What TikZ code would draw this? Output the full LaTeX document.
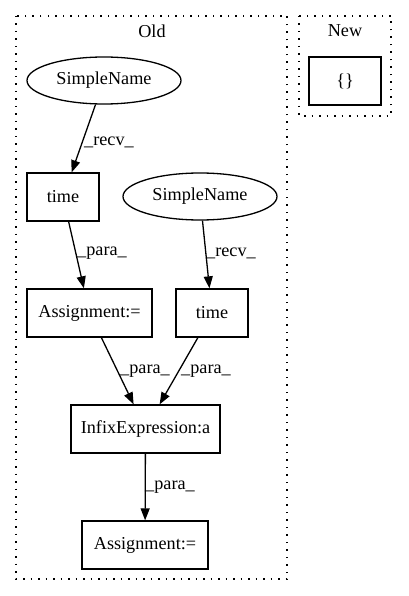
\documentclass[tikz,border=0pt]{standalone}
\usepackage{fontspec}
\setmainfont{Liberation Serif}
\usetikzlibrary{shapes.geometric,arrows.meta}
\begin{document}
\begin{tikzpicture}[x=1pt,y=-1pt,
  every node/.style={font=\fontsize{18.2}{22}\selectfont, inner sep=0pt},
  box/.style={draw, line width=1.3pt, rectangle, minimum height=48pt},
  oval/.style={draw, line width=1.3pt, ellipse, minimum width=154pt, minimum height=47pt},
  edge/.style={draw, line width=1.3pt, -{Triangle[length=12pt,width=9pt]}},
  cluster/.style={draw, line width=1.5pt, dash pattern=on 1.5pt off 6pt},
  lbl/.style={}
]
\useasboundingbox (0,0) rectangle (408,596);
\fill[white] (0,0) rectangle (408,596);
% clusters
\draw[cluster] (16,16) rectangle (287,579);
\draw[cluster] (299,16) rectangle (391,116);
\node (oldt) at (152,31) {Old};
\node (newt) at (345,31) {New};
% nodes
\node[box, minimum width=72pt] (empty) at (345,81) {\{\}};
\node[oval] (sn1) at (104,80.5) {SimpleName};
\node[box, minimum width=72pt] (time1) at (63,197) {time};
\node[oval] (sn2) at (200,196.5) {SimpleName};
\node[box, minimum width=125pt] (as1) at (89.5,313) {Assignment:=};
\node[box, minimum width=72pt] (time2) at (212,313) {time};
\node[box, minimum width=149pt] (infix) at (145.5,429) {InfixExpression:a};
\node[box, minimum width=126pt] (as2) at (145,545) {Assignment:=};
% edges
\draw[edge] (sn1) -- (time1);
\draw[edge] (time1) -- (as1);
\draw[edge] (sn2) -- (time2);
\draw[edge] (as1) -- (infix);
\draw[edge] (time2) -- (infix);
\draw[edge] (infix) -- (as2);
% labels
\node[lbl] (l1) at (109,142) {\_recv\_};
\node[lbl] (l2) at (102,253) {\_para\_};
\node[lbl] (l3) at (231,253) {\_recv\_};
\node[lbl] (l4) at (145,371) {\_para\_};
\node[lbl] (l5) at (206,371) {\_para\_};
\node[lbl] (l6) at (170,487) {\_para\_};
\end{tikzpicture}
\end{document}
